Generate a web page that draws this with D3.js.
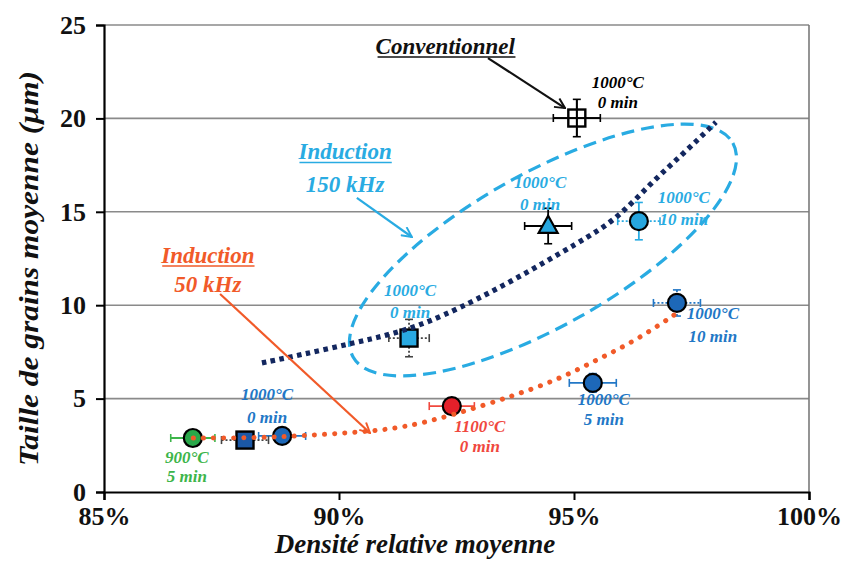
<!DOCTYPE html>
<html><head><meta charset="utf-8">
<script src="https://cdn.jsdelivr.net/npm/d3@7"></script>
<style>
body{margin:0;background:#fff}
svg{display:block}
text{font-family:"Liberation Serif","Times New Roman",serif;font-weight:bold}
</style>
</head><body>
<svg id="c" width="846" height="561"></svg>
<script>
// ---------- data ----------
const xTicks = [85, 90, 95, 100];
const yTicks = [0, 5, 10, 15, 20, 25];
const pointIds = ["conv", "i150_0tri", "i150_10", "i150_0sq", "i50_10", "i50_5", "i50_1100", "i50_0", "i50_sq", "i50_900"];
const densite = [95.06, 94.45, 96.38, 91.49, 97.19, 95.40, 92.40, 88.79, 88.00, 86.89];
const taille  = [20.02, 14.24, 14.50, 8.24, 10.12, 5.84, 4.60, 3.00, 2.78, 2.89];
const errDensite = [0.5, 0.5, 0.45, 0.43, 0.5, 0.5, 0.48, 0.5, 0.5, 0.47];
const errTaille  = [1.0, 0.95, 1.0, 1.0, 0.7, 0.5, 0.0, 0.0, 0.0, 0.0];
const labelLine1 = ["1000°C", "1000°C", "1000°C", "1000°C", "1000°C", "1000°C", "1100°C", "1000°C", "", "900°C"];
const labelLine2 = ["0 min", "0 min", "10 min", "0 min", "10 min", "5 min", "0 min", "0 min", "", "5 min"];
// trend lines
const trend150X = [88.36, 89.17, 90.30, 91.15, 92.15, 93.70, 95.13, 95.91, 96.62, 97.32, 98.02];
const trend150Y = [6.91, 7.33, 7.98, 8.45, 9.30, 11.30, 13.40, 14.60, 16.50, 18.10, 19.80];
const trend50X = [86.90, 88.11, 89.17, 90.45, 91.36, 92.43, 93.70, 94.64, 95.49, 96.34, 97.19];
const trend50Y = [2.89, 2.89, 3.00, 3.21, 3.43, 4.12, 5.14, 6.00, 7.07, 8.14, 9.58];
const groupTitles = ["Conventionnel", "Induction", "150 kHz", "Induction", "50 kHz"];

// ---------- layout ----------
const svg = d3.select("#c");
const x = d3.scaleLinear().domain([85, 100]).range([104, 809]);
const y = d3.scaleLinear().domain([0, 25]).range([492, 25]);

const LB = "#29abe2", DB = "#2277c6", RED = "#f0483e", ORG = "#f15a29", GRN = "#3db54a", NAVY = "#13275f";

const style = {
  conv:      {shape:"square", fill:"none",    size:17, err:"#000", dashX:null, dashY:null, lab:"#000", dx:41, dy:[-30,-10]},
  i150_0tri: {shape:"tri",    fill:"#27a6de", size:19, err:"#000", dashX:null, dashY:null, lab:LB, dx:-8, dy:[-38,-16]},
  i150_10:   {shape:"circle", fill:"#27a6de", size:9,  err:LB,    dashX:"2 2", dashY:null, lab:LB, dx:45, dy:[-18,4]},
  i150_0sq:  {shape:"square", fill:"#29a9e1", size:17, err:"#444", dashX:"2 2", dashY:"2 2", lab:LB, dx:1, dy:[-42,-20]},
  i50_10:    {shape:"circle", fill:"#1d68b8", size:9,  err:DB,    dashX:"2 2", dashY:"2 2", lab:DB, dx:36, dy:[16,39]},
  i50_5:     {shape:"circle", fill:"#1d68b8", size:9,  err:DB,    dashX:null, dashY:null, lab:DB, dx:11, dy:[22,42]},
  i50_1100:  {shape:"circle", fill:"#e4202a", size:9,  err:RED,   dashX:null, dashY:null, lab:RED, dx:28, dy:[26,46]},
  i50_0:     {shape:"circle", fill:"#1d68b8", size:9,  err:DB,    dashX:null, dashY:null, lab:DB, dx:-15, dy:[-36,-13]},
  i50_sq:    {shape:"square", fill:"#1b58a6", size:17, err:"#444", dashX:"2 2", dashY:null, lab:DB, dx:0, dy:[0,0]},
  i50_900:   {shape:"circle", fill:"#2aa84a", size:9,  err:GRN,   dashX:null, dashY:null, lab:GRN, dx:-6, dy:[25,44]}
};

// ---------- frame & grid ----------
const g = svg.append("g");
g.selectAll(".grid").data(yTicks.filter(d => d > 0)).join("line")
  .attr("x1", x(85)).attr("x2", x(100)).attr("y1", d => y(d)).attr("y2", d => y(d))
  .attr("stroke", "#8a8a8a").attr("stroke-width", 1.6);
g.append("line").attr("x1", x(100)).attr("x2", x(100)).attr("y1", y(25)).attr("y2", y(0))
  .attr("stroke", "#7a7a7a").attr("stroke-width", 1.6);

// axes
const yAxis = d3.axisLeft(y).tickValues(yTicks).tickSize(8).tickPadding(10).tickFormat(d3.format("d"));
const xAxis = d3.axisBottom(x).tickValues(xTicks).tickSize(8).tickPadding(7).tickFormat(d => d + "%");
const ya = svg.append("g").attr("transform", `translate(${x(85)},0)`).call(yAxis);
const xa = svg.append("g").attr("transform", `translate(0,${y(0)})`).call(xAxis);
[ya, xa].forEach(a => {
  a.select(".domain").attr("stroke", "#000").attr("stroke-width", 2.2);
  a.selectAll(".tick line").attr("stroke", "#000").attr("stroke-width", 2);
  a.selectAll(".tick text").attr("fill", "#111").style("font-size", "26px")
    .style("font-family", '"Liberation Serif", serif').style("font-weight", "bold");
});

// axis titles
svg.append("text").attr("transform", `translate(38,${(y(0)+y(25))/2 + 10}) rotate(-90)`)
  .attr("text-anchor", "middle").style("font-size", "28px").style("font-style", "italic")
  .attr("textLength", 395).attr("lengthAdjust", "spacingAndGlyphs")
  .attr("fill", "#111").text("Taille de grains moyenne (µm)");
svg.append("text").attr("x", 415).attr("y", 553)
  .attr("text-anchor", "middle").style("font-size", "27px").style("font-style", "italic")
  .attr("fill", "#111").text("Densité relative moyenne");

// ---------- ellipse (Induction 150 kHz group) ----------
const ellA = [90.30, 7.23], ellB = [98.38, 18.68], ellRatio = 0.35;
{
  const p1 = [x(ellA[0]), y(ellA[1])], p2 = [x(ellB[0]), y(ellB[1])];
  const cx = (p1[0]+p2[0])/2, cy = (p1[1]+p2[1])/2;
  const a = Math.hypot(p2[0]-p1[0], p2[1]-p1[1]) / 2;
  const ang = Math.atan2(p2[1]-p1[1], p2[0]-p1[0]) * 180 / Math.PI;
  svg.append("ellipse").attr("cx", 0).attr("cy", 0).attr("rx", a).attr("ry", a*ellRatio)
    .attr("transform", `translate(${cx},${cy}) rotate(${ang})`)
    .attr("fill", "none").attr("stroke", LB).attr("stroke-width", 3.2).attr("stroke-dasharray", "13 7");
}

// ---------- error bars ----------
const pts = pointIds.map((id, i) => ({id, x: densite[i], y: taille[i], ex: errDensite[i], ey: errTaille[i], s: style[id], l1: labelLine1[i], l2: labelLine2[i]}));
const eb = svg.append("g");
pts.forEach(p => {
  const px = x(p.x), py = y(p.y), c = 4;
  if (p.ex > 0) {
    const x1 = x(p.x - p.ex), x2 = x(p.x + p.ex);
    eb.append("line").attr("x1", x1).attr("x2", x2).attr("y1", py).attr("y2", py)
      .attr("stroke", p.s.err).attr("stroke-width", 1.8).attr("stroke-dasharray", p.s.dashX);
    [x1, x2].forEach(xx => eb.append("line").attr("x1", xx).attr("x2", xx).attr("y1", py-c).attr("y2", py+c)
      .attr("stroke", p.s.err).attr("stroke-width", 1.6));
  }
  if (p.ey > 0) {
    const y1 = y(p.y - p.ey), y2 = y(p.y + p.ey);
    eb.append("line").attr("x1", px).attr("x2", px).attr("y1", y1).attr("y2", y2)
      .attr("stroke", p.s.err).attr("stroke-width", 1.8).attr("stroke-dasharray", p.s.dashY);
    [y1, y2].forEach(yy => eb.append("line").attr("x1", px-c).attr("x2", px+c).attr("y1", yy).attr("y2", yy)
      .attr("stroke", p.s.err).attr("stroke-width", 1.6));
  }
});

// ---------- markers ----------
const mk = svg.append("g");
pts.forEach(p => {
  const px = x(p.x), py = y(p.y), s = p.s;
  if (s.shape === "circle") {
    mk.append("circle").attr("cx", px).attr("cy", py).attr("r", s.size)
      .attr("fill", s.fill).attr("stroke", "#000").attr("stroke-width", 2.2);
  } else if (s.shape === "square") {
    mk.append("rect").attr("x", px - s.size/2).attr("y", py - s.size/2).attr("width", s.size).attr("height", s.size)
      .attr("fill", s.fill).attr("stroke", "#000").attr("stroke-width", 2.4);
  } else {
    const h = s.size * 0.9, w = s.size;
    mk.append("path").attr("d", `M${px},${py - h*0.6} L${px + w/2},${py + h*0.4} L${px - w/2},${py + h*0.4} Z`)
      .attr("fill", s.fill).attr("stroke", "#000").attr("stroke-width", 2.2).attr("stroke-linejoin", "miter");
  }
});
{
  const p = pts[0];
  mk.append("line").attr("x1", x(p.x - p.ex)).attr("x2", x(p.x + p.ex)).attr("y1", y(p.y)).attr("y2", y(p.y)).attr("stroke", "#000").attr("stroke-width", 1.8);
  mk.append("line").attr("x1", x(p.x)).attr("x2", x(p.x)).attr("y1", y(p.y - p.ey)).attr("y2", y(p.y + p.ey)).attr("stroke", "#000").attr("stroke-width", 1.8);
}

// ---------- trend lines ----------
const line = d3.line().x(d => x(d[0])).y(d => y(d[1])).curve(d3.curveBasis);
svg.append("path").attr("d", line(trend150X.map((v, i) => [v, trend150Y[i]])))
  .attr("fill", "none").attr("stroke", NAVY).attr("stroke-width", 5.2).attr("stroke-dasharray", "4.5 4.5");
svg.append("path").attr("d", line(trend50X.map((v, i) => [v, trend50Y[i]])))
  .attr("fill", "none").attr("stroke", ORG).attr("stroke-width", 5).attr("stroke-linecap", "round").attr("stroke-dasharray", "0.1 10");

// ---------- point labels ----------
const lab = svg.append("g");
pts.forEach(p => {
  if (!p.l1) return;
  const px = x(p.x) + p.s.dx, py = y(p.y);
  [p.l1, p.l2].forEach((t, k) => lab.append("text").attr("x", px).attr("y", py + p.s.dy[k])
    .attr("text-anchor", "middle").style("font-size", "17px").style("font-style", "italic")
    .attr("fill", p.s.lab).text(t));
});

// ---------- group annotations ----------
const defs = svg.append("defs");
function arrowMarker(id, col) {
  defs.append("marker").attr("id", id).attr("viewBox", "0 0 12 12").attr("refX", 11).attr("refY", 6)
    .attr("markerWidth", 12).attr("markerHeight", 12).attr("markerUnits", "userSpaceOnUse").attr("orient", "auto")
    .append("path").attr("d", "M1,1 L11,6 L1,11").attr("fill", "none").attr("stroke", col).attr("stroke-width", 2);
}
arrowMarker("aK", "#111"); arrowMarker("aB", LB); arrowMarker("aR", ORG);

function title(lines, cxData, baseData, col, underlineFirst) {
  lines.forEach((t, k) => {
    const el = svg.append("text").attr("x", x(cxData)).attr("y", y(baseData[k])).attr("text-anchor", "middle")
      .style("font-size", "23px").style("font-style", "italic").attr("fill", col).text(t);
    if (k === 0 && underlineFirst) {
      const bb = el.node().getBBox();
      svg.append("line").attr("x1", bb.x + 2).attr("x2", bb.x + bb.width).attr("y1", y(baseData[k]) + 3).attr("y2", y(baseData[k]) + 3)
        .attr("stroke", col).attr("stroke-width", 1.6);
    }
  });
}
function arrow(a, b, col, m) {
  svg.append("line").attr("x1", x(a[0])).attr("y1", y(a[1])).attr("x2", x(b[0])).attr("y2", y(b[1]))
    .attr("stroke", col).attr("stroke-width", 2.2).attr("marker-end", `url(#${m})`);
}
title([groupTitles[0]], 92.26, [23.45], "#111", true);
arrow([93.17, 23.23], [94.81, 20.55], "#111", "aK");
title([groupTitles[1], groupTitles[2]], 90.13, [17.80, 16.06], LB, true);
arrow([90.38, 15.74], [91.55, 13.65], LB, "aB");
title([groupTitles[3], groupTitles[4]], 87.21, [12.26, 10.71], ORG, true);
arrow([87.47, 10.60], [90.66, 3.16], ORG, "aR");
</script>
</body></html>
